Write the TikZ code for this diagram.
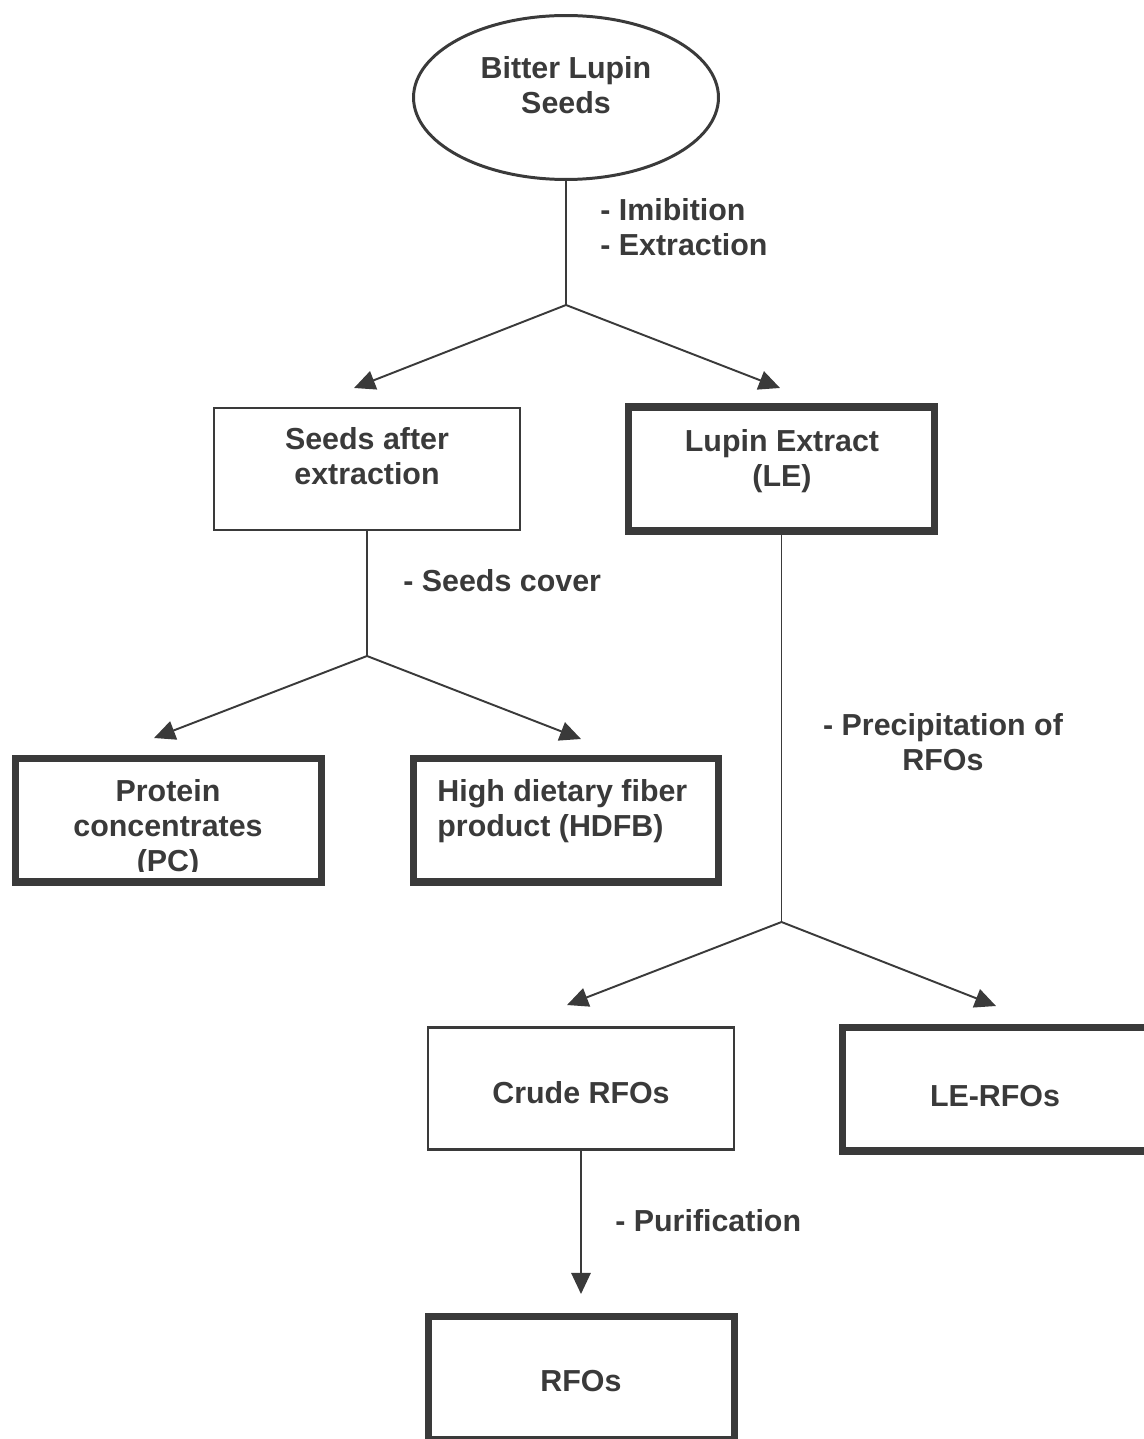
\documentclass[tikz,border=0pt]{standalone}
\usepackage{fontspec}
\setmainfont{Liberation Sans}
\usepackage{xcolor}
\usepackage{tikz}
\usetikzlibrary{shapes.geometric,arrows.meta}
\definecolor{ink}{HTML}{3A3A3A}

\begin{document}
\begin{tikzpicture}[x=0.02cm,y=-0.02cm]
		\useasboundingbox (0,0) rectangle (1143,1439);
		\tikzstyle{every node}+=[text=ink,inner sep=0pt,font=\fontsize{17.3}{19.9}\selectfont\bfseries]
		\tikzstyle{thinbox}=[draw=ink,line width=1.2pt,minimum width=6.12cm,minimum height=2.44cm]
		\tikzstyle{thickbox}=[draw=ink,line width=4pt,minimum width=6.12cm,minimum height=2.48cm]
		\tikzstyle{txt}=[align=center]
		\tikzstyle{lbl}=[align=left,anchor=west]
		\tikzstyle{ln}=[draw=ink,line width=1.1pt]
		\tikzstyle{arr}=[ln,-{Triangle[length=12pt,width=11pt]}]
		% boxes
		\node[ellipse,draw=ink,line width=1.7pt,minimum width=6.1cm,minimum height=3.28cm] (bls) at (566,97.5) {};
		\node[thinbox] (sae) at (367,469) {};
		\node[thickbox] (le) at (781.5,469) {};
		\node[thickbox] (pc) at (168.5,820) {};
		\node[thickbox] (hdfb) at (566,820) {};
		\node[thinbox] (crude) at (581,1088.5) {};
		\node[thickbox] (lerfo) at (995,1089) {};
		\node[thickbox] (rfo) at (581.5,1378) {};
		% texts
		\node[txt] (blst) at (566,85.5) {Bitter Lupin\\Seeds};
		\node[txt] (saet) at (367,456) {Seeds after\\extraction};
		\node[txt] (let) at (782,461.5) {Lupin Extract\\(LE)};
		\begin{scope}
			\clip (12,755) rectangle (325,871);
			\node[txt] (pct) at (168,829) {Protein\\concentrates\\(PC)};
		\end{scope}
		\node[lbl] (hdfbt) at (437,811.5) {High dietary fiber\\product (HDFB)};
		\node[txt] (crudet) at (581,1093) {Crude RFOs};
		\node[txt] (lerfot) at (995,1096) {LE-RFOs};
		\node[txt] (rfot) at (581,1381) {RFOs};
		% steps
		\node[lbl] (imb) at (600,227.5) {- Imibition\\- Extraction};
		\node[lbl] (cov) at (403,581) {- Seeds cover};
		\node[txt] (prc) at (943,742) {- Precipitation of\\RFOs};
		\node[lbl] (pur) at (615,1221) {- Purification};
		% connectors
		\coordinate (p1) at (566,305);
		\coordinate (a1) at (354,388);
		\coordinate (a2) at (780,388);
		\coordinate (p2) at (367,656);
		\coordinate (b1) at (154,738);
		\coordinate (b2) at (581,739);
		\coordinate (p3) at (781.5,922);
		\coordinate (c1) at (567,1005);
		\coordinate (c2) at (996,1006);
		\coordinate (d1) at (581,1294);
		\draw[ln] (bls.south) -- (p1);
		\draw (p1) edge[arr] (a1) edge[arr] (a2);
		\draw[ln] (sae.south) -- (p2);
		\draw (p2) edge[arr] (b1) edge[arr] (b2);
		\draw[ln] (le.south) -- (p3);
		\draw (p3) edge[arr] (c1) edge[arr] (c2);
		\draw[arr] (crude.south) -- (d1);
\end{tikzpicture}
\end{document}
